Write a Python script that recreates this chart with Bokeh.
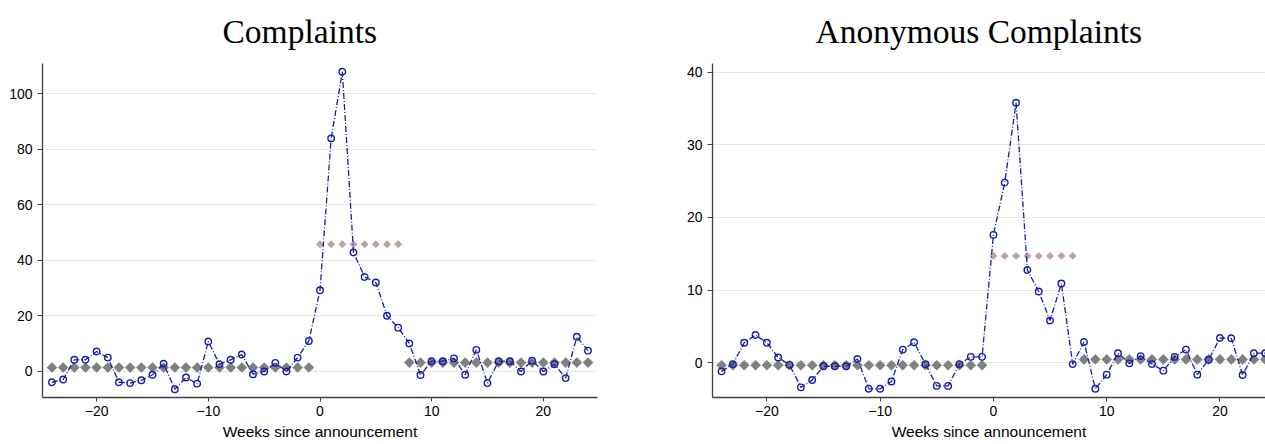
import math
from bokeh.plotting import figure
from bokeh.layouts import row
from bokeh.models import FixedTicker, Range1d
from bokeh.embed import file_html
from bokeh.resources import INLINE

weeks = list(range(-24, 25))

complaints = [-4.0, -3.0, 4.1, 4.1, 7.1, 4.9, -4.0, -4.3, -3.3, -1.3, 2.7, -6.5,
              -2.3, -4.5, 10.7, 2.5, 4.1, 6.0, -1.1, -0.1, 3.0, -0.1, 4.9, 10.9,
              29.2, 84.0, 108.0, 42.8, 34.0, 32.0, 20.0, 15.7, 10.0, -1.4, 3.6, 3.6,
              4.6, -1.3, 7.7, -4.3, 3.6, 3.6, -0.1, 3.8, -0.1, 2.5, -2.5, 12.4, 7.4]

anonymous = [-1.2, -0.2, 2.75, 3.8, 2.75, 0.7, -0.3, -3.4, -2.4, -0.5, -0.5, -0.5,
             0.5, -3.6, -3.6, -2.6, 1.8, 2.8, -0.2, -3.2, -3.2, -0.2, 0.8, 0.8,
             17.6, 24.8, 35.8, 12.75, 9.8, 5.8, 10.9, -0.2, 2.85, -3.6, -1.65, 1.3,
             -0.1, 0.9, -0.2, -1.1, 0.8, 1.8, -1.65, 0.4, 3.4, 3.35, -1.7, 1.3, 1.3]

pre_weeks = list(range(-24, 0))
event_weeks = list(range(0, 8))
post_weeks = list(range(8, 25))

complaints_means = {"pre": 1.3, "event": 45.8, "post": 3.1}
anonymous_means = {"pre": -0.35, "event": 14.7, "post": 0.45}

x_ticks = [-20, -10, 0, 10, 20]
complaints_yticks = [0, 20, 40, 60, 80, 100]
anonymous_yticks = [0, 10, 20, 30, 40]

BLUE = "#1a1aaa"
GRAY = "#808080"
PINK = "#bfa39b"
SANS = "Liberation Sans"


def make_panel(title, values, means, yticks, xr, yr, width, bl, br, offset):
    p = figure(width=width, height=444, output_backend="svg", toolbar_location=None,
               x_range=Range1d(*xr), y_range=Range1d(*yr),
               min_border_left=bl, min_border_right=br,
               min_border_top=63, min_border_bottom=47)
    p.title.text = title
    p.title.text_font = "Liberation Serif"
    p.title.text_font_size = "33.5px"
    p.title.text_font_style = "normal"
    p.title.align = "left"
    p.title.vertical_align = "top"
    p.title.offset = offset
    p.title.standoff = 23
    p.title.text_color = "black"
    p.outline_line_color = None
    p.background_fill_color = "white"
    p.border_fill_color = "white"

    p.xgrid.visible = False
    p.ygrid.grid_line_color = "#e6e6e6"
    p.ygrid.grid_line_width = 1

    p.xaxis.ticker = FixedTicker(ticks=x_ticks)
    p.yaxis.ticker = FixedTicker(ticks=yticks)
    for ax in (p.xaxis, p.yaxis):
        ax.axis_line_color = "#404040"
        ax.axis_line_width = 1.3
        ax.major_tick_line_color = "#404040"
        ax.minor_tick_line_color = None
        ax.major_tick_in = 0
        ax.major_label_text_font = SANS
        ax.major_label_text_font_size = "14px"
        ax.major_label_text_color = "black"
    p.xaxis.major_tick_out = 4
    p.yaxis.major_tick_out = 5
    p.xaxis.axis_label = "Weeks since announcement"
    p.xaxis.axis_label_text_font = SANS
    p.xaxis.axis_label_text_font_size = "15.5px"
    p.xaxis.axis_label_text_font_style = "normal"
    p.xaxis.axis_label_text_color = "black"
    p.xaxis.axis_label_standoff = 4
    p.xaxis.major_label_standoff = 4

    p.scatter(pre_weeks, [means["pre"]] * len(pre_weeks), marker="square",
              angle=math.pi / 4, size=7.5, color=GRAY, line_width=0)
    p.scatter(post_weeks, [means["post"]] * len(post_weeks), marker="square",
              angle=math.pi / 4, size=7.5, color=GRAY, line_width=0)
    p.scatter(event_weeks, [means["event"]] * len(event_weeks), marker="square",
              angle=math.pi / 4, size=5.6, color=PINK, line_width=0)

    p.line(weeks, values, line_color=BLUE, line_width=1.3, line_dash="6 2 1 2")
    p.scatter(weeks, values, marker="circle", size=6.5, fill_color=None,
              line_color=BLUE, line_width=1.4)
    return p


left = make_panel("Complaints", complaints, complaints_means, complaints_yticks,
                  (-24.85, 24.85), (-9.5, 111.0), 632, 42, 35, 180)
right = make_panel("Anonymous Complaints", anonymous, anonymous_means, anonymous_yticks,
                   (-24.8, 24.02), (-4.8, 41.2), 633, 80, 0, 103)

layout = row(left, right)
open("out.html", "w").write(file_html(layout, INLINE))
